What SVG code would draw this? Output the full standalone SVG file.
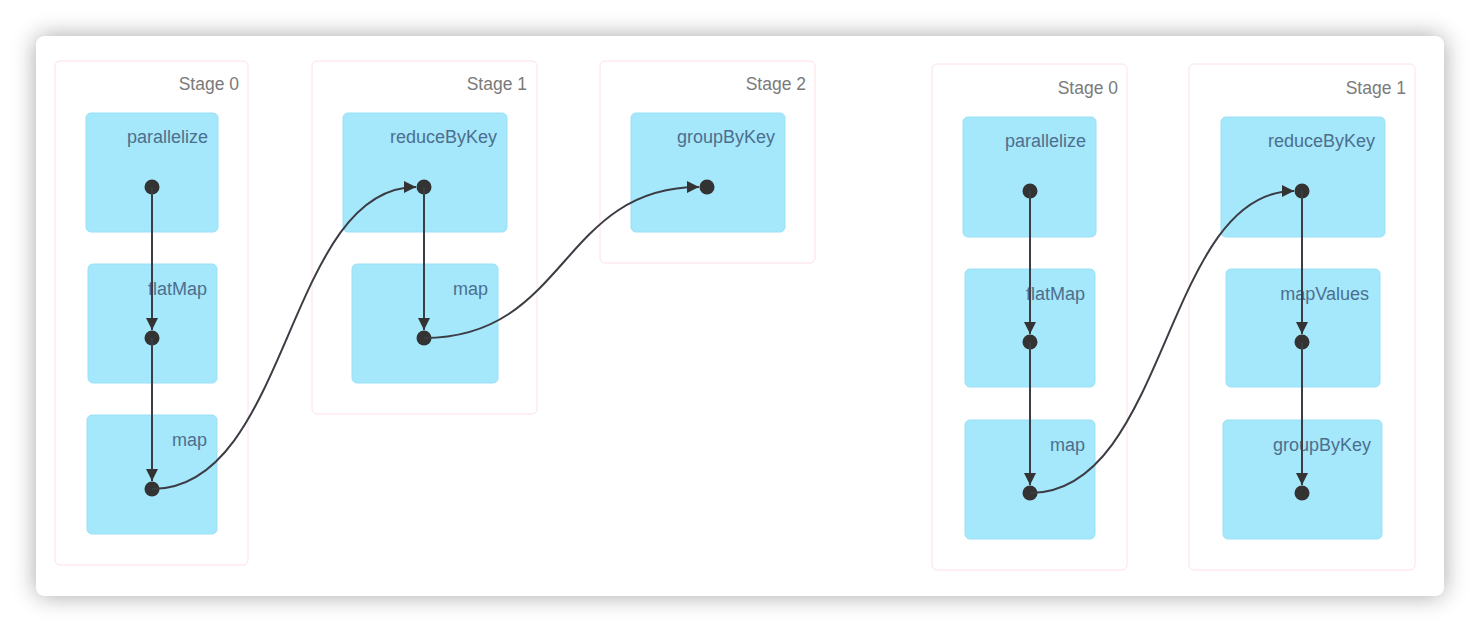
<svg xmlns="http://www.w3.org/2000/svg" width="1480" height="632" viewBox="0 0 1480 632">
<defs>
<filter id="shadow" x="-10%" y="-20%" width="120%" height="140%">
<feGaussianBlur in="SourceAlpha" stdDeviation="12"/>
<feComponentTransfer><feFuncA type="linear" slope="0.35"/></feComponentTransfer>
<feMerge><feMergeNode/><feMergeNode in="SourceGraphic"/></feMerge>
</filter>
<marker id="arrow" viewBox="0 0 10 10" refX="10" refY="5" markerWidth="12" markerHeight="12" markerUnits="userSpaceOnUse" orient="auto">
<path d="M0,0 L10,5 L0,10 z" fill="#333"/>
</marker>
<style>
.stage rect { fill: #ffffff; stroke: #fce0e7; stroke-width: 1; }
.stage text { font-family: "Liberation Sans", Arial, sans-serif; font-size: 17.5px; fill: #7a7a7a; text-anchor: end; }
.node rect { fill: #a5e7fb; stroke: #9ae0f7; stroke-width: 1; }
.node text { font-family: "Liberation Sans", Arial, sans-serif; font-size: 18px; fill: #4c6f8e; text-anchor: end; }
.node circle { fill: #333333; }
#connectors path { fill: none; stroke: #3c3c44; stroke-width: 2; marker-end: url(#arrow); }
</style>
</defs>
<rect width="1480" height="632" fill="#ffffff"/>
<rect x="36" y="36" width="1408" height="560" rx="9" fill="#ffffff" filter="url(#shadow)"/>

<g id="stages">
<g id="stage-a0" class="stage"><rect x="55" y="61" width="193" height="504" rx="5"/><text x="239" y="90">Stage 0</text></g>
<g id="stage-a1" class="stage"><rect x="312" y="61" width="225" height="353" rx="5"/><text x="527" y="90">Stage 1</text></g>
<g id="stage-a2" class="stage"><rect x="600" y="61" width="215" height="202" rx="5"/><text x="806" y="90">Stage 2</text></g>
<g id="stage-b0" class="stage"><rect x="932" y="64" width="195" height="506" rx="5"/><text x="1118" y="94">Stage 0</text></g>
<g id="stage-b1" class="stage"><rect x="1189" y="64" width="226" height="506" rx="5"/><text x="1406" y="94">Stage 1</text></g>
</g>

<g id="node-a-parallelize" class="node"><rect x="86" y="113" width="132" height="119" rx="5"/><text x="208" y="143">parallelize</text><circle cx="152" cy="187" r="7.5"/></g>
<g id="node-a-flatMap" class="node"><rect x="88" y="264" width="129" height="119" rx="5"/><text x="207" y="295">flatMap</text><circle cx="152" cy="338" r="7.5"/></g>
<g id="node-a-map" class="node"><rect x="87" y="415" width="130" height="119" rx="5"/><text x="207" y="446">map</text><circle cx="152" cy="489" r="7.5"/></g>
<g id="node-a-reduceByKey" class="node"><rect x="343" y="113" width="164" height="119" rx="5"/><text x="497" y="143">reduceByKey</text><circle cx="424" cy="187" r="7.5"/></g>
<g id="node-a-map2" class="node"><rect x="352" y="264" width="146" height="119" rx="5"/><text x="488" y="295">map</text><circle cx="424" cy="338" r="7.5"/></g>
<g id="node-a-groupByKey" class="node"><rect x="631" y="113" width="154" height="119" rx="5"/><text x="775" y="143">groupByKey</text><circle cx="707" cy="187" r="7.5"/></g>

<g id="node-b-parallelize" class="node"><rect x="963" y="117" width="133" height="120" rx="5"/><text x="1086" y="147">parallelize</text><circle cx="1030" cy="191" r="7.5"/></g>
<g id="node-b-flatMap" class="node"><rect x="965" y="269" width="130" height="118" rx="5"/><text x="1085" y="300">flatMap</text><circle cx="1030" cy="342" r="7.5"/></g>
<g id="node-b-map" class="node"><rect x="965" y="420" width="130" height="119" rx="5"/><text x="1085" y="451">map</text><circle cx="1030" cy="493" r="7.5"/></g>
<g id="node-b-reduceByKey" class="node"><rect x="1221" y="117" width="164" height="120" rx="5"/><text x="1375" y="147">reduceByKey</text><circle cx="1302" cy="191" r="7.5"/></g>
<g id="node-b-mapValues" class="node"><rect x="1226" y="269" width="154" height="118" rx="5"/><text x="1369" y="300">mapValues</text><circle cx="1302" cy="342" r="7.5"/></g>
<g id="node-b-groupByKey" class="node"><rect x="1223" y="420" width="159" height="119" rx="5"/><text x="1371" y="451">groupByKey</text><circle cx="1302" cy="493" r="7.5"/></g>

<g id="connectors">
<path d="M152,187 L152,330"/>
<path d="M152,338 L152,481"/>
<path d="M152,489 C290,489 286,187 416,187"/>
<path d="M424,187 L424,330"/>
<path d="M424,338 C568,338 560,187 699,187"/>
<path d="M1030,191 L1030,334"/>
<path d="M1030,342 L1030,485"/>
<path d="M1030,493 C1168,493 1164,191 1294,191"/>
<path d="M1302,191 L1302,334"/>
<path d="M1302,342 L1302,485"/>
</g>
</svg>
